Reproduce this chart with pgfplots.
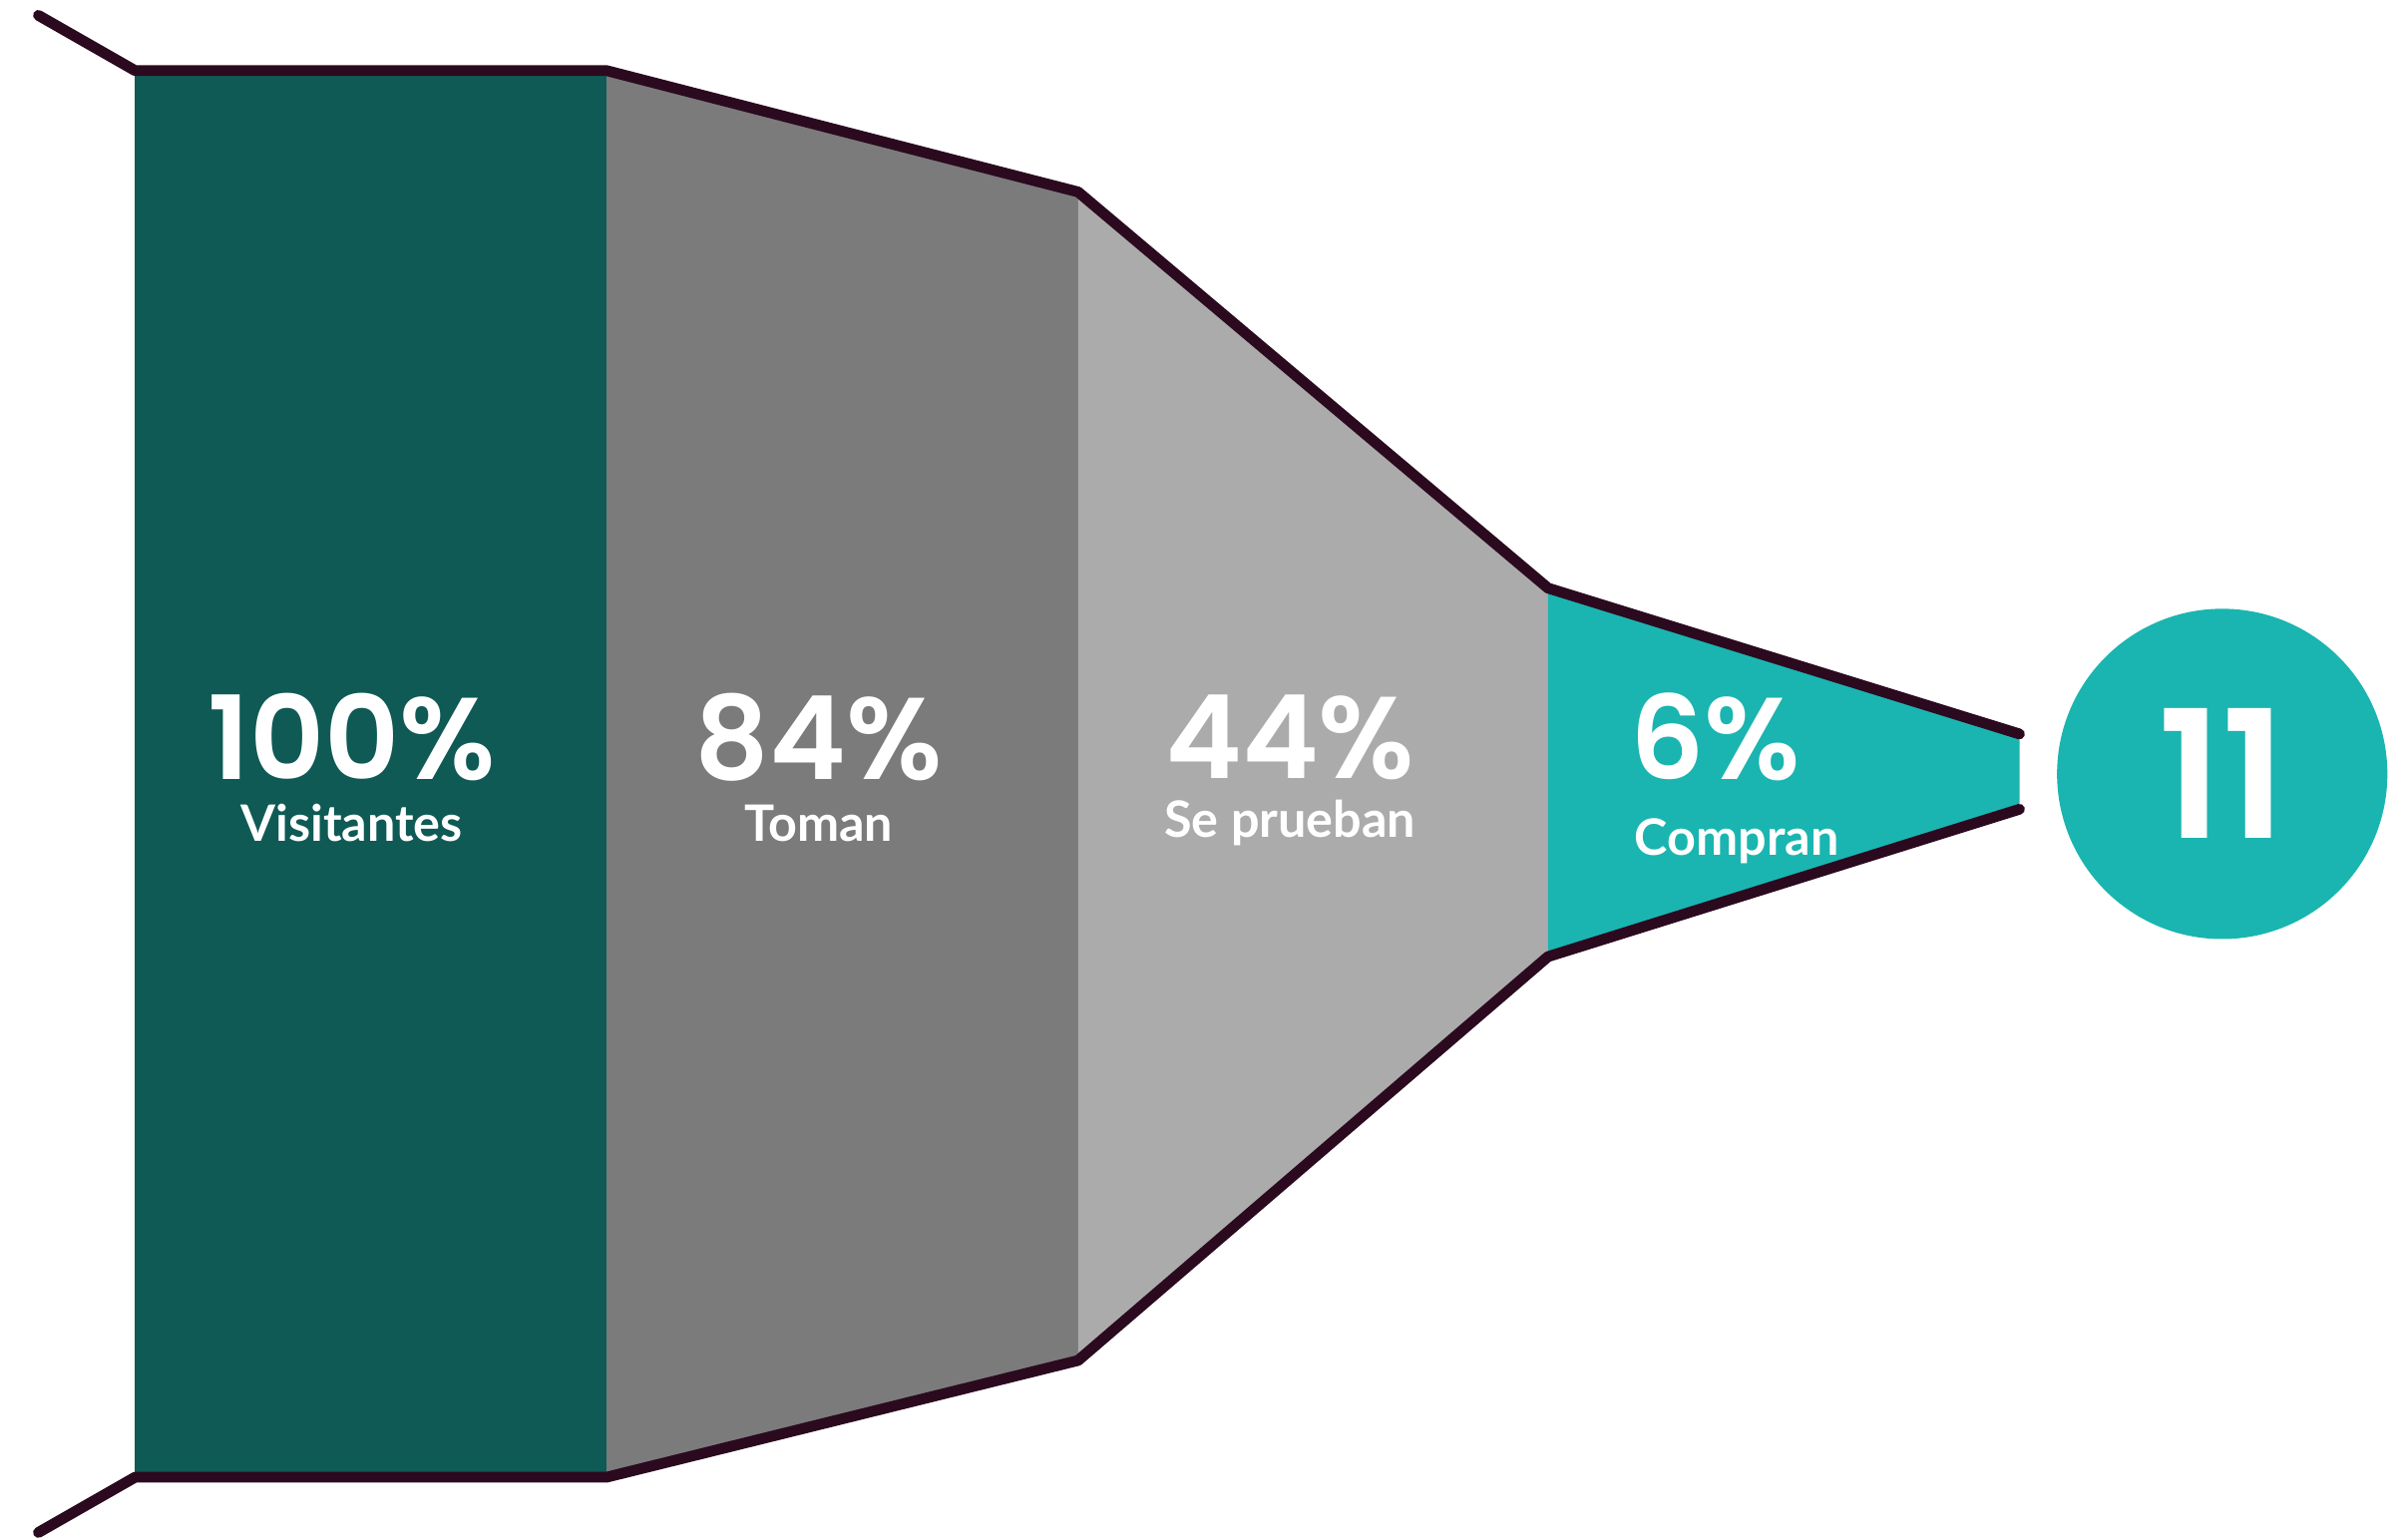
\documentclass[border=0pt]{standalone}
\usepackage{pgfplots}
\pgfplotsset{compat=1.18}
\usepackage{fontspec}
\setmainfont{Lato}
\newfontfamily\pb{Poppins SemiBold}
\definecolor{dteal}{HTML}{0F5A55}
\definecolor{mgray}{HTML}{7B7B7B}
\definecolor{lgray}{HTML}{ABABAB}
\definecolor{teal2}{HTML}{1AB5B0}
\definecolor{edge}{HTML}{2B0A1F}
\begin{document}
\begin{tikzpicture}
\begin{axis}[
  width=15.68cm, height=10cm, scale only axis,
  xmin=0, xmax=1568, ymin=0, ymax=1000, y dir=reverse,
  hide axis, clip=false,
]
% segments
\addplot[fill=dteal, draw=none] coordinates {(88,46) (395,46) (395,962) (88,962)} -- cycle;
\addplot[fill=mgray, draw=none] coordinates {(395,46) (702,125) (702,886) (395,962)} -- cycle;
\addplot[fill=lgray, draw=none] coordinates {(702,125) (1008,383) (1008,623) (702,886)} -- cycle;
\addplot[fill=teal2, draw=none] coordinates {(1008,383) (1315,478) (1315,527) (1008,623)} -- cycle;
% outline
\addplot[edge, line width=2pt, line cap=round, line join=round] coordinates {(25,10) (88,46) (395,46) (702,125) (1008,383) (1315,478)};
\addplot[edge, line width=2pt, line cap=round, line join=round] coordinates {(25,998) (88,962) (395,962) (702,886) (1008,623) (1315,527)};
% circle
\addplot[only marks, mark=*, mark size=30.4pt, teal2, mark options={draw=none, fill=teal2}] coordinates {(1447,504)};
\coordinate (bl) at (axis cs:0,1000);
\coordinate (tr) at (axis cs:1568,0);
\coordinate (c11) at (axis cs:1447,504);
% labels
\tikzset{big/.style={text=white, inner sep=0pt, font=\fontsize{21.5}{22}\selectfont\pb},
         small/.style={text=white, inner sep=0pt, font=\fontsize{9.3}{10}\selectfont\bfseries}}
\node[big] at (axis cs:229,480) {100\%};
\node[small] at (axis cs:229,536) {Visitantes};
\node[big] at (axis cs:533,480) {84\%};
\node[small] at (axis cs:533,536) {Toman};
\node[big] at (axis cs:840,480) {44\%};
\node[small] at (axis cs:840,536) {Se prueban};
\node[big] at (axis cs:1117,480) {6\%};
\node[small] at (axis cs:1131,548) {Compran};
\end{axis}
\path (bl) rectangle (tr);
\node[text=white, font=\fontsize{33}{33}\selectfont\pb] at (c11) {11};
\end{tikzpicture}
\end{document}
